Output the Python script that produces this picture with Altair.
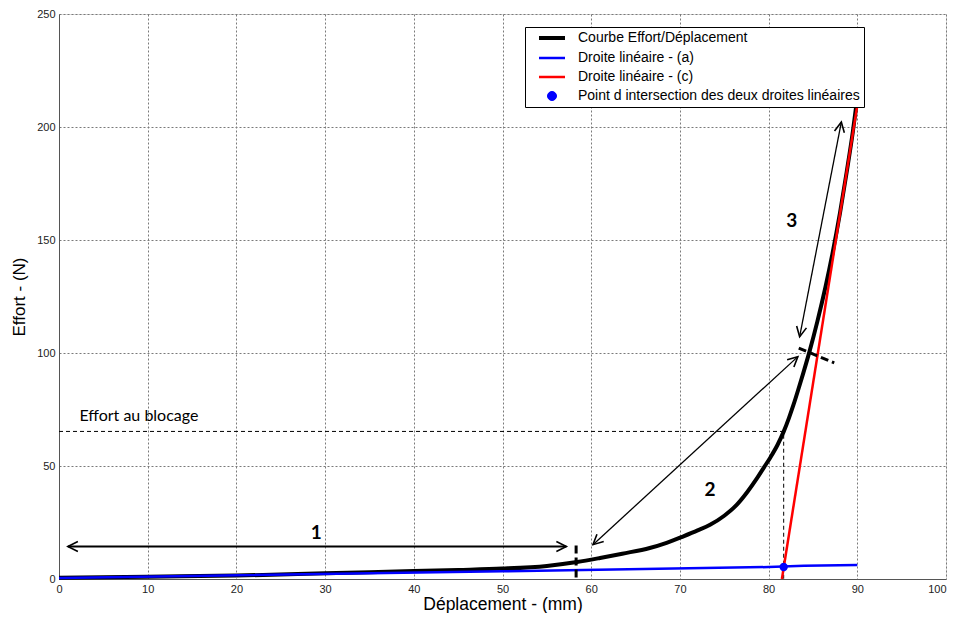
import math
import altair as alt
import pandas as pd

# ---------------- data ----------------
curve_x = [0, 10, 20, 30, 40, 45, 50, 55, 58.4, 61, 63.5, 66.6, 68.5, 70.4, 72, 73.4, 75,
           76.4, 77.6, 78.7, 79.5, 80.2, 81.0, 81.7, 82.3, 82.8, 83.4, 83.9, 84.6, 85.5,
           86.4, 87.2, 88.05, 88.8, 89.5, 89.9]
curve_y = [0.5, 1.0, 1.5, 2.5, 3.5, 4.0, 4.6, 5.8, 7.5, 9.3, 11.2, 13.7, 16.0, 18.9, 21.5,
           24.0, 28.0, 32.8, 38.5, 44.6, 49.5, 53.8, 59.3, 65.2, 71.3, 77.0, 84.5, 91.0,
           100.5, 114.0, 129.0, 144.0, 162.0, 180.0, 198.0, 210.0]

line_a_x = [0, 50, 80, 84, 90]
line_a_y = [0.4, 3.4, 5.3, 5.9, 6.2]

line_c_x = [81.5, 90.3]
line_c_y = [0, 217]

inter_x = [81.7]
inter_y = [5.3]

block_x = [0, 81.7, 81.7]
block_y = [65.3, 65.3, 0]
block_label = "Effort au blocage"
block_label_x = [2.3]
block_label_y = [69.9]

marker_id = ["m1", "m1", "m2", "m2"]
marker_x = [58.3, 58.3, 83.4, 87.4]
marker_y = [14.8, -0.6, 102.2, 95.6]

arrow_id = ["1", "1", "2", "2", "3", "3"]
arrow_x = [1.0, 57.2, 60.2, 83.3, 83.5, 88.2]
arrow_y = [14.4, 14.4, 15.2, 98.4, 107.2, 202.2]

zone_text = ["1", "2", "3"]
zone_x = [29.0, 73.4, 82.6]
zone_y = [20.3, 39.3, 158.6]

series_names = ["Courbe Effort/Déplacement", "Droite linéaire - (a)",
                "Droite linéaire - (c)", "Point d intersection des deux droites linéaires"]
series_colors = ["black", "blue", "red", "blue"]
series_widths = [4, 2.5, 2.5, 1]

x_ticks = [0, 10, 20, 30, 40, 50, 60, 70, 80, 90, 100]
y_ticks = [0, 50, 100, 150, 200, 250]

# ---------------- layout constants ----------------
W, H = 887, 565
X_DOM, Y_DOM = [0, 100], [0, 250]
KX = W / (X_DOM[1] - X_DOM[0])
KY = H / (Y_DOM[1] - Y_DOM[0])

FONT = "Liberation Sans"
LINE_SYM = "M -1 0 L 4.2 0"
DOT_SYM = "M 0.7 0 A 0.9 0.9 0 1 0 2.5 0 A 0.9 0.9 0 1 0 0.7 0 Z"
series_shapes = [LINE_SYM, LINE_SYM, LINE_SYM, DOT_SYM]
ARROW_HEAD = "M -2 -1 L 0 0 L -2 1"

# ---------------- tables ----------------
curve_df = pd.DataFrame({"x": curve_x, "y": curve_y})
a_df = pd.DataFrame({"x": line_a_x, "y": line_a_y})
c_df = pd.DataFrame({"x": line_c_x, "y": line_c_y})
inter_df = pd.DataFrame({"x": inter_x, "y": inter_y})
block_df = pd.DataFrame({"x": block_x, "y": block_y, "o": list(range(len(block_x)))})
marker_df = pd.DataFrame({"id": marker_id, "x": marker_x, "y": marker_y})
arrow_df = pd.DataFrame({"id": arrow_id, "x": arrow_x, "y": arrow_y})
zone_df = pd.DataFrame({"t": zone_text, "x": zone_x, "y": zone_y})
note_df = pd.DataFrame({"t": [block_label], "x": block_label_x, "y": block_label_y})
legend_df = pd.DataFrame({"series": series_names, "x": [0] * 4, "y": [0] * 4})

heads = []
for i in range(0, len(arrow_x), 2):
    p = (arrow_x[i], arrow_y[i])
    q = (arrow_x[i + 1], arrow_y[i + 1])
    for a, b in ((p, q), (q, p)):
        dx = (a[0] - b[0]) * KX
        dy = -(a[1] - b[1]) * KY
        ang = math.degrees(math.atan2(dy, dx)) % 360
        heads.append({"id": arrow_id[i], "x": a[0], "y": a[1], "ang": ang})
heads_df = pd.DataFrame(heads)

# ---------------- encodings ----------------
X = alt.X("x:Q", scale=alt.Scale(domain=X_DOM, nice=False, zero=False),
          axis=alt.Axis(values=x_ticks, title="Déplacement - (mm)",
                        labelAlign={"condition": {"test": "datum.value >= 100", "value": "right"},
                                    "value": "center"}))
Y = alt.Y("y:Q", scale=alt.Scale(domain=Y_DOM, nice=False, zero=False),
          axis=alt.Axis(values=y_ticks, title="Effort - (N)"))

base = lambda df: alt.Chart(df)

curve_layer = base(curve_df).mark_line(strokeWidth=4, color="black",
                                       interpolate="monotone").encode(x=X, y=Y)
a_layer = base(a_df).mark_line(strokeWidth=2.5, color="blue").encode(x=X, y=Y)
c_layer = base(c_df).mark_line(strokeWidth=2.5, color="red").encode(x=X, y=Y)
inter_layer = base(inter_df).mark_point(shape="circle", filled=True, color="blue",
                                        size=70, opacity=1).encode(x=X, y=Y)
block_layer = base(block_df).mark_line(strokeWidth=1, color="black", strokeDash=[4, 3]).encode(
    x=X, y=Y, order="o:Q")
marker_layer = base(marker_df).mark_line(strokeWidth=3, color="black", strokeDash=[8, 4]).encode(
    x=X, y=Y, detail="id:N")
arrow1_layer = base(arrow_df).transform_filter("datum.id == '1'").mark_line(
    strokeWidth=1.9, color="black").encode(x=X, y=Y, detail="id:N")
arrow23_layer = base(arrow_df).transform_filter("datum.id != '1'").mark_line(
    strokeWidth=1.3, color="black").encode(x=X, y=Y, detail="id:N")
head_layer = base(heads_df).mark_point(shape=ARROW_HEAD, filled=False, stroke="black",
                                       strokeWidth=1.6, size=100, opacity=1).encode(
    x=X, y=Y, angle=alt.Angle("ang:Q", scale=None))
zone_layer = base(zone_df).mark_text(font="Lato", fontSize=19, fontWeight="bold",
                                     align="center", baseline="middle", color="black").encode(
    x=X, y=Y, text="t:N")
note_layer = base(note_df).mark_text(font="Lato", fontSize=16, align="left",
                                     baseline="alphabetic", color="black").encode(
    x=X, y=Y, text="t:N")

leg = alt.Legend(title=None, orient="none", legendX=466, legendY=13,
                 strokeColor="black", fillColor="white", padding=4,
                 labelFont=FONT, labelFontSize=14, labelColor="black", labelLimit=500,
                 rowPadding=5, symbolOffset=8, labelOffset=27, symbolSize=100,
                 symbolOpacity=1)
legend_layer = base(legend_df).transform_filter("false").mark_point(
    filled=True, opacity=1, size=100).encode(
    x=X, y=Y,
    fill=alt.Fill("series:N", scale=alt.Scale(domain=series_names, range=series_colors), legend=leg),
    stroke=alt.Stroke("series:N", scale=alt.Scale(domain=series_names, range=series_colors), legend=leg),
    shape=alt.Shape("series:N", scale=alt.Scale(domain=series_names, range=series_shapes), legend=leg),
    strokeWidth=alt.StrokeWidth("series:N", scale=alt.Scale(type="ordinal", domain=series_names,
                                                            range=series_widths), legend=leg),
)

chart = alt.layer(
    block_layer, curve_layer, a_layer, c_layer, inter_layer, marker_layer,
    arrow1_layer, arrow23_layer, head_layer, zone_layer, note_layer, legend_layer
).properties(
    width=W, height=H,
    autosize=alt.AutoSizeParams(type="none"),
    padding={"left": 51, "top": 6, "right": 3, "bottom": 34},
).configure_view(stroke=None).configure(background="white").configure_axis(
    grid=True, gridColor="#7a7a7a", gridDash=[2, 2], gridWidth=1, gridOpacity=1,
    domainColor="#555", domainWidth=1, ticks=False, tickSize=0,
    labelFont=FONT, labelFontSize=11, labelColor="#222", labelPadding=4,
    titleFont=FONT, titleFontWeight="normal", titleColor="black",
).configure_axisX(titlePadding=1, titleFontSize=17.5).configure_axisY(titlePadding=8, titleFontSize=17)

chart.save("out.html", embed_options={"renderer": "svg", "actions": False})
